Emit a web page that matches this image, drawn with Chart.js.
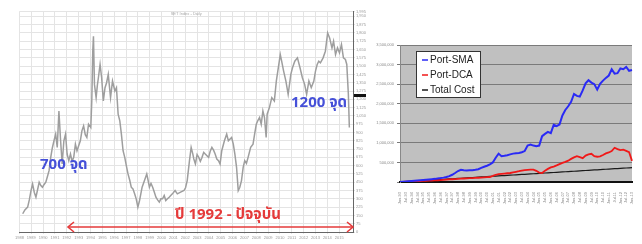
<!DOCTYPE html>
<html>
<head>
<meta charset="utf-8">
<script src="https://cdn.jsdelivr.net/npm/chart.js@4.4.1/dist/chart.umd.min.js"></script>
<style>
  body { margin:0; background:#fff; width:642px; height:244px; position:relative; overflow:hidden; font-family: Arial, "Liberation Sans", sans-serif; }
  #leftBox { position:absolute; left:14px; top:8px; width:356px; height:232px; }
  #rightBox { position:absolute; left:370px; top:35px; width:272px; height:175px; }
  .note { position:absolute; font-weight:bold; white-space:nowrap; font-family: "Noto Sans Thai", Tahoma, "Noto Sans", sans-serif; }
  #n700 { left:40px; top:153px; font-size:15px; color:#4550d8; }
  #n1200 { left:291px; top:91px; font-size:15px; color:#4550d8; }
  #nYear { left:175px; top:203px; font-size:15px; color:#e53a3a; }
  #arrow { position:absolute; left:64px; top:221px; }
</style>
</head>
<body>
<div id="leftBox"><canvas id="setChart"></canvas></div>
<div id="rightBox"><canvas id="portChart"></canvas></div>
<div class="note" id="n700">700 จุด</div>
<div class="note" id="n1200">1200 จุด</div>
<div class="note" id="nYear">ปี 1992 - ปัจจุบัน</div>
<svg id="arrow" width="294" height="12">
  <line x1="4" y1="6" x2="289" y2="6" stroke="#e53a3a" stroke-width="1.6"/>
  <polyline points="10,1 4,6 10,11" fill="none" stroke="#e53a3a" stroke-width="1.6"/>
  <polyline points="283,1 289,6 283,11" fill="none" stroke="#e53a3a" stroke-width="1.6"/>
</svg>
<script>
// ---- left chart: index level by month ----
const setMonth = [
  3.3,5.5,8.3,10,11.7,13.3,15,16.7,18.3,20,
  21.7,23.3,25,26.7,28.3,30,31.7,33.3,35,36.7,
  38.3,40,41.7,43.3,45,46.7,48.3,50,51.7,53.3,
  55,56.7,58.3,60,61.7,63.3,65,66.7,68.3,70,
  72.3,73.3,74.3,75,76,77.7,79,80,81.7,83.3,
  85,86.7,88.3,90,92.3,94.3,96.7,98.3,100,101.7,
  103.3,105,106.7,108.3,110,111.7,113.3,115,116.7,118.3,
  120,121.7,124.3,126.7,129,130.3,131.7,133.3,135,136.7,
  138.3,140,141.7,143.3,145,146.7,148.3,150,151.7,153.3,
  155,157.7,160,163.3,166.7,168.3,170,172.3,174,175.7,
  176.7,178.3,180,181.7,183.3,185,186.7,188.3,190,191.7,
  193.3,195,196.7,198.3,200,201.7,203.3,205,207.7,210,
  211.7,215,216.7,218.3,220,221.7,223.3,225,226.7,228.3,
  230,231.7,234.3,236.7,238.3,240,241.7,243.3,245,246.7,
  248.3,250,251,253.3,255.7,258.3,260.3,262.3,264.3,265.7,
  267.7,270,272.3,275,276.7,279,281.7,284.3,286.7,289,
  291,293.3,295.7,298.3,300,301.7,303.3,305,307.7,310,
  312.3,314.3,316.7,318.3,320.3,322.3,324.3,326.3,328.3,330.3,
  331.7,333.3,334.3
];
const setIndex = [
  165,200,225,290,375,435,360,315,380,450,
  420,405,430,450,500,555,675,760,825,885,
  765,1095,825,615,825,885,705,645,705,640,
  675,795,735,780,825,915,960,880,855,975,
  945,1185,1635,1770,1335,1215,1330,1395,1515,1395,
  1185,1305,1350,1425,1215,1365,1275,1305,1065,1005,
  885,735,675,600,525,470,405,390,345,300,
  225,285,405,465,525,470,405,440,405,360,
  315,290,270,300,300,330,285,300,315,330,
  345,375,345,360,375,400,465,645,765,705,
  660,615,700,675,640,675,720,705,690,675,
  730,765,740,705,660,645,615,735,825,885,
  825,855,795,705,585,375,405,465,585,645,
  620,675,765,795,885,975,1010,1035,975,1095,
  1035,855,1065,1125,1215,1185,1365,1485,1605,1545,
  1455,1365,1245,1425,1485,1545,1575,1485,1395,1335,
  1245,1365,1305,1365,1455,1515,1545,1530,1575,1635,
  1800,1755,1665,1725,1605,1665,1620,1695,1575,1560,
  1515,1245,945
];
const setYearLabels = ['1988','1989','1990','1991','1992','1993','1994','1995','1996','1997','1998','1999','2000','2001','2002','2003','2004','2005','2006','2007','2008','2009','2010','2011','2012','2013','2014','2015','2016'];
const lastPrice = 1230;

// ---- right chart: portfolio values (thousand baht) ----
const portLabels = ['Jan-93','Jul-93','Jan-94','Jul-94','Jan-95','Jul-95','Jan-96','Jul-96','Jan-97','Jul-97','Jan-98','Jul-98','Jan-99','Jul-99','Jan-00','Jul-00','Jan-01','Jul-01','Jan-02','Jul-02','Jan-03','Jul-03','Jan-04','Jul-04','Jan-05','Jul-05','Jan-06','Jul-06','Jan-07','Jul-07','Jan-08','Jul-08','Jan-09','Jul-09','Jan-10','Jul-10','Jan-11','Jul-11','Jan-12','Jul-12','Jan-13'];
const portSMA = [0,6,12,19,25,31,37,44,51,58,66,73,80,90,100,112,127,150,185,230,280,312,300,296,300,302,312,325,360,390,415,450,500,620,725,660,670,685,705,725,732,740,760,790,930,955,930,915,930,1170,1230,1280,1250,1460,1430,1470,1700,1840,1935,2050,2250,2200,2180,2340,2520,2600,2540,2500,2360,2510,2590,2660,2720,2880,2770,2780,2900,2880,2940,2840,2860];
const portDCA = [0,3,7,10,14,17,20,24,27,31,34,38,41,45,50,55,60,65,70,75,82,86,90,93,97,100,104,108,112,117,122,128,155,185,200,208,216,224,230,245,260,275,292,303,310,314,316,285,240,230,290,335,372,395,425,458,490,515,545,590,630,660,635,610,675,705,720,660,645,655,690,730,755,790,875,840,815,825,795,760,540];
const totalCost = [0,5,9,14,18,23,28,32,37,41,46,51,55,60,64,69,74,78,83,87,92,96,101,106,110,115,119,124,129,133,138,142,147,152,156,161,165,170,174,179,184,188,193,197,202,207,211,216,220,225,230,234,239,243,248,252,257,262,266,271,275,280,285,289,294,298,303,308,312,317,321,326,330,335,340,344,349,353,358,363,367];
const yTickLabels = ['', '500,000', '1,000,000', '1,500,000', '2,000,000', '2,500,000', '3,000,000', '3,500,000'];

const tiny = { size: 4, family: 'Arial' };

new Chart(document.getElementById('setChart'), {
  type: 'line',
  data: {
    datasets: [{
      data: setMonth.map((m, i) => ({ x: m, y: setIndex[i] })),
      borderColor: '#9e9e9e',
      borderWidth: 1.5,
      pointRadius: 0,
      tension: 0
    }]
  },
  options: {
    responsive: true,
    maintainAspectRatio: false,
    animation: false,
    layout: { padding: { left: 1, top: 2, right: 2, bottom: 0 } },
    plugins: {
      legend: { display: false },
      tooltip: { enabled: false },
      title: { display: false }
    },
    scales: {
      x: {
        type: 'linear', min: 0, max: 338,
        ticks: { stepSize: 12, font: tiny, color: '#999', maxRotation: 0, autoSkip: false, padding: 1,
          callback: v => setYearLabels[v / 12] },
        grid: { color: '#e4e4e4', tickLength: 2 },
        border: { color: '#666' },
        afterFit: s => { s.height = 8; }
      },
      y: {
        position: 'right', min: 0, max: 1995,
        ticks: { stepSize: 75, font: tiny, color: '#999', autoSkip: false, padding: 1 },
        grid: { color: '#e4e4e4', tickLength: 2 },
        border: { color: '#666' },
        afterFit: s => { s.width = 15; }
      }
    }
  },
  plugins: [{
    id: 'marks',
    afterDraw(chart) {
      const ctx = chart.ctx, y = chart.scales.y.getPixelForValue(lastPrice), a = chart.chartArea;
      ctx.save();
      ctx.fillStyle = '#111';
      ctx.fillRect(a.right + 1, y - 2, 12, 3);
      ctx.fillStyle = '#aaa';
      ctx.font = '4px Arial';
      ctx.textAlign = 'center';
      ctx.fillText('SET Index - Daily', (a.left + a.right) / 2, a.top + 4);
      ctx.restore();
    }
  }]
});

new Chart(document.getElementById('portChart'), {
  type: 'line',
  data: {
    labels: portSMA.map((_, i) => i % 2 === 0 ? portLabels[i / 2] : ''),
    datasets: [
      { label: 'Port-SMA', data: portSMA, borderColor: '#2a2af5', borderWidth: 2, pointRadius: 0 },
      { label: 'Port-DCA', data: portDCA, borderColor: '#f01818', borderWidth: 1.8, pointRadius: 0 },
      { label: 'Total Cost', data: totalCost, borderColor: '#1a1a1a', borderWidth: 1.2, pointRadius: 0 }
    ]
  },
  options: {
    responsive: true,
    maintainAspectRatio: false,
    animation: false,
    layout: { padding: { left: 0, top: 10, right: 10, bottom: 0 } },
    plugins: { legend: { display: false }, tooltip: { enabled: false } },
    scales: {
      x: {
        ticks: { font: tiny, color: '#888', minRotation: 90, maxRotation: 90, autoSkip: false, padding: 2 },
        grid: { display: false },
        border: { color: '#111', width: 2 },
        afterFit: s => { s.height = 28; }
      },
      y: {
        min: 0, max: 3500,
        ticks: { stepSize: 500, font: tiny, color: '#888', padding: 3, callback: v => yTickLabels[v / 500] },
        grid: { color: '#7a7a7a', tickLength: 3 },
        border: { color: '#888' },
        afterFit: s => { s.width = 30; }
      }
    }
  },
  plugins: [{
    id: 'plotBg',
    beforeDraw(chart) {
      const a = chart.chartArea, ctx = chart.ctx;
      ctx.save();
      ctx.fillStyle = '#c0c0c0';
      ctx.fillRect(a.left, a.top, a.right - a.left, a.bottom - a.top);
      ctx.restore();
    },
    afterDraw(chart) {
      const a = chart.chartArea, ctx = chart.ctx;
      const bx = a.left + 16, by = a.top + 6;
      ctx.save();
      ctx.fillStyle = '#fff';
      ctx.strokeStyle = '#333';
      ctx.lineWidth = 1;
      ctx.fillRect(bx, by, 64, 46);
      ctx.strokeRect(bx + 0.5, by + 0.5, 64, 46);
      ctx.font = '10px Arial';
      ctx.textBaseline = 'middle';
      chart.data.datasets.forEach((d, i) => {
        const y = by + 9 + i * 15;
        ctx.strokeStyle = d.borderColor;
        ctx.lineWidth = 1.5;
        ctx.beginPath(); ctx.moveTo(bx + 6, y); ctx.lineTo(bx + 12, y); ctx.stroke();
        ctx.fillStyle = '#222';
        ctx.fillText(d.label, bx + 14, y);
      });
      ctx.restore();
    }
  }]
});
</script>
</body>
</html>
